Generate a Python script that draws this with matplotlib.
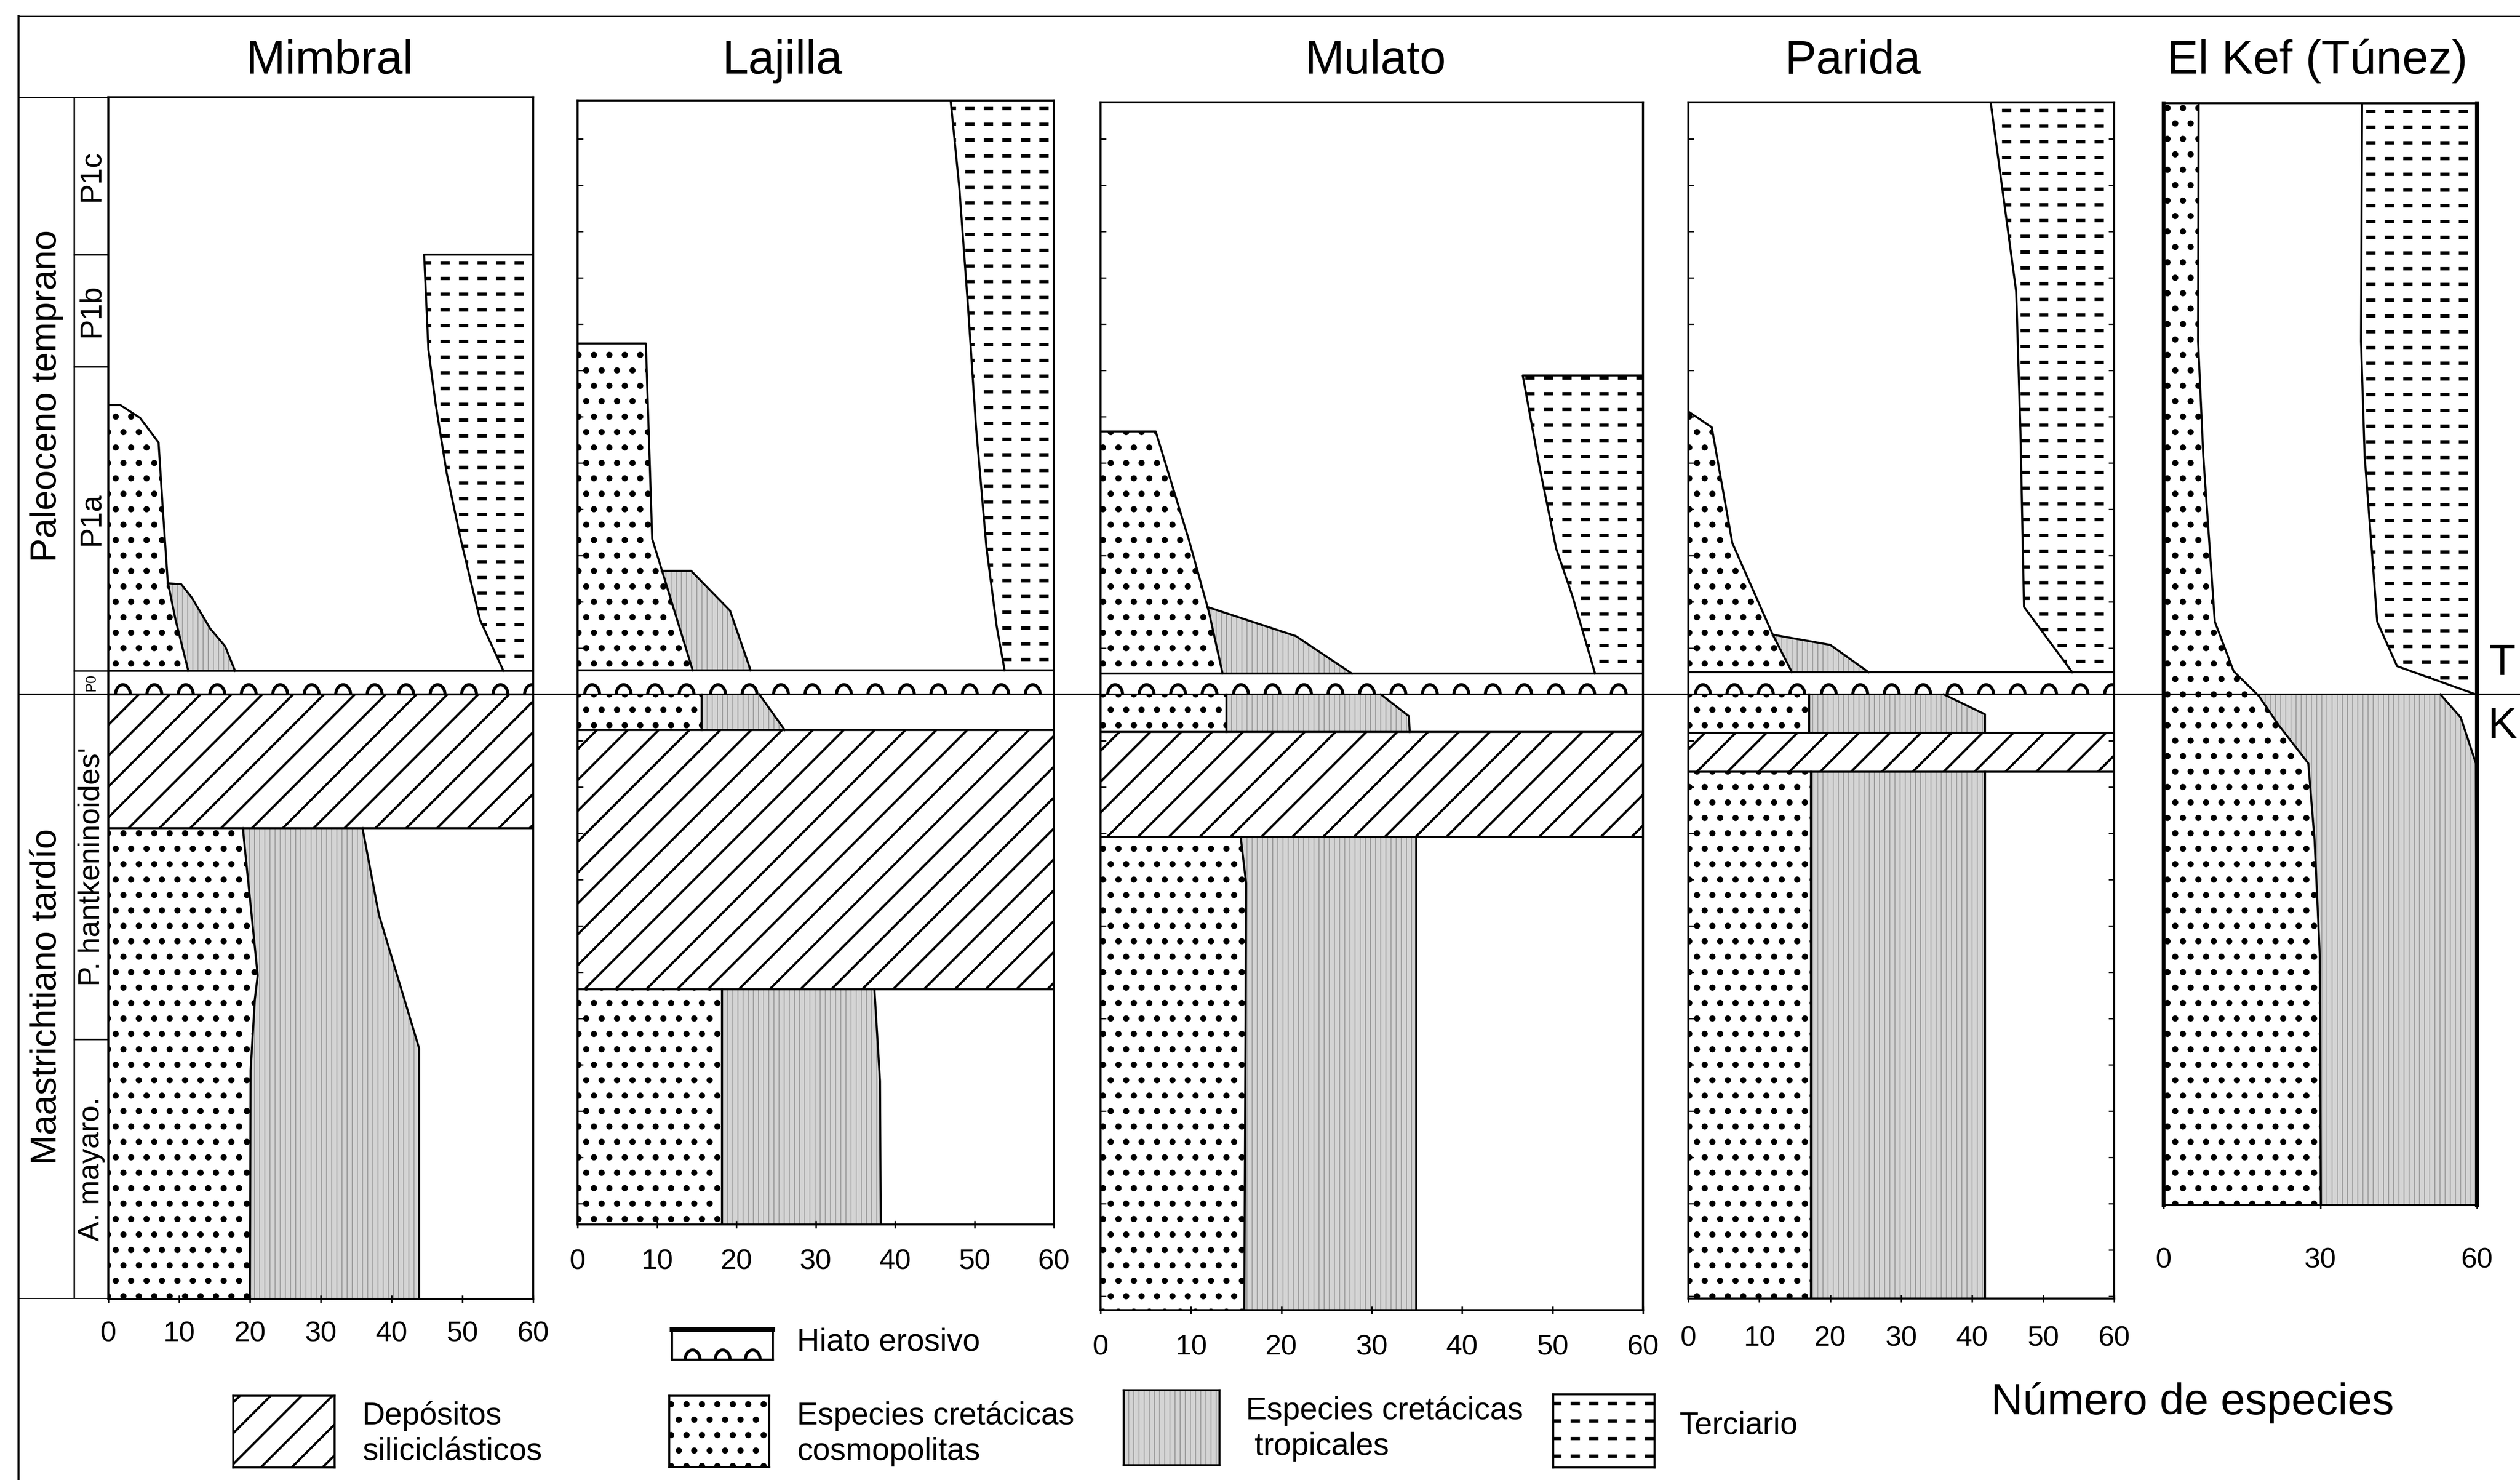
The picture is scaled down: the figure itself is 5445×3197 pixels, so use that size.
import numpy as np
import matplotlib
matplotlib.use("Agg")
import matplotlib.pyplot as plt
from matplotlib.lines import Line2D
from matplotlib.path import Path

# ---------------- data: species counts (x) at stratigraphic level (y, K/T = 0) ----------------
SECTIONS = ["Mimbral", "Lajilla", "Mulato", "Parida", "El Kef (Túnez)"]

# biozones / stages of the reference column (Mimbral)
ZONE_NAMES = ["P1c", "P1b", "P1a", "P0", "P. hantkeninoides'", "A. mayaro."]
ZONE_TOPS = [129.0, 95.0, 70.8, 5.1, 0.0, -74.5]
ZONE_BASES = [95.0, 70.8, 5.1, 0.0, -74.5, -130.6]
ERA_NAMES = ["Paleoceno temprano", "Maastrichtiano tardío"]
ERA_TOPS = [129.0, 0.0]
ERA_BASES = [0.0, -130.6]

# Mimbral
MIM_TOP, MIM_BASE = 129.0, -130.6
MIM_HIATUS_TOP = 5.1
MIM_SILIC = [0.0, -28.9]
MIM_TER_LVL = [95.0, 74.5, 63.0, 47.7, 33.3, 16.1, 5.1]
MIM_TER_N = [44.6, 45.2, 46.2, 47.8, 49.8, 52.5, 55.8]
MIM_COS_P_LVL = [62.5, 62.5, 59.7, 54.4, 40.0, 24.3, 16.1, 5.1]
MIM_COS_P_N = [0.0, 1.7, 4.5, 7.1, 7.7, 8.4, 9.5, 11.3]
MIM_TRO_P_LVL = [24.0, 23.8, 20.9, 14.2, 10.4, 5.1]
MIM_TRO_P_N = [8.4, 10.3, 11.8, 14.4, 16.5, 17.9]
MIM_COS_M_LVL = [-28.9, -60.7, -65.8, -81.1, -130.6]
MIM_COS_M_N = [19.0, 21.1, 20.7, 20.1, 20.0]
MIM_TRO_M_LVL = [-28.9, -47.5, -76.5, -130.6]
MIM_TRO_M_N = [35.9, 38.2, 43.9, 43.9]

# Lajilla
LAJ_TOP, LAJ_BASE = 128.3, -114.5
LAJ_HIATUS_TOP = 5.2
LAJ_SILIC = [-7.7, -63.7]
LAJ_TER_LVL = [128.3, 109.3, 83.5, 57.7, 31.9, 14.7, 5.2]
LAJ_TER_N = [47.0, 48.1, 49.2, 50.2, 51.5, 52.8, 53.8]
LAJ_COS_P_LVL = [75.8, 75.8, 33.6, 5.2]
LAJ_COS_P_N = [0.0, 8.6, 9.4, 14.5]
LAJ_TRO_P_LVL = [26.7, 26.7, 18.1, 5.2]
LAJ_TRO_P_N = [10.6, 14.3, 19.2, 21.8]
LAJ_COS_KT_LVL = [0.0, -7.7]
LAJ_COS_KT_N = [15.6, 15.6]
LAJ_TRO_KT_LVL = [0.0, -7.7]
LAJ_TRO_KT_N = [22.9, 26.1]
LAJ_COS_M_LVL = [-63.7, -114.5]
LAJ_COS_M_N = [18.2, 18.2]
LAJ_TRO_M_LVL = [-63.7, -83.5, -114.5]
LAJ_TRO_M_N = [37.4, 38.1, 38.2]

# Mulato
MUL_TOP, MUL_BASE = 127.9, -133.0
MUL_HIATUS_TOP = 4.5
MUL_SILIC = [-8.1, -30.8]
MUL_TER_LVL = [68.9, 48.7, 31.5, 21.2, 4.5]
MUL_TER_N = [46.7, 48.6, 50.4, 52.2, 54.7]
MUL_COS_P_LVL = [56.8, 56.8, 33.2, 17.7, 4.5]
MUL_COS_P_N = [0.0, 6.1, 9.8, 12.0, 13.5]
MUL_TRO_P_LVL = [18.9, 12.6, 4.5]
MUL_TRO_P_N = [11.8, 21.6, 27.8]
MUL_COS_KT_LVL = [0.0, -8.1]
MUL_COS_KT_N = [13.9, 13.9]
MUL_TRO_KT_LVL = [0.0, -4.7, -8.1]
MUL_TRO_KT_N = [31.0, 34.1, 34.2]
MUL_COS_M_LVL = [-30.8, -40.8, -133.0]
MUL_COS_M_N = [15.5, 16.1, 15.9]
MUL_TRO_M_LVL = [-30.8, -133.0]
MUL_TRO_M_N = [34.9, 34.9]

# Parida
PAR_TOP, PAR_BASE = 127.9, -130.5
PAR_HIATUS_TOP = 4.8
PAR_SILIC = [-8.3, -16.7]
PAR_TER_LVL = [127.9, 87.0, 56.8, 18.9, 4.8]
PAR_TER_N = [42.6, 46.2, 46.8, 47.3, 54.1]
PAR_COS_P_LVL = [61.1, 57.7, 32.7, 12.9, 4.8]
PAR_COS_P_N = [0.0, 3.3, 6.2, 11.9, 14.6]
PAR_TRO_P_LVL = [12.9, 10.7, 4.8]
PAR_TRO_P_N = [11.9, 20.0, 25.4]
PAR_COS_KT_LVL = [0.0, -8.3]
PAR_COS_KT_N = [17.0, 17.0]
PAR_TRO_KT_LVL = [0.0, -4.3, -8.3]
PAR_TRO_KT_N = [36.0, 41.8, 41.8]
PAR_COS_M_LVL = [-16.7, -130.5]
PAR_COS_M_N = [17.3, 17.3]
PAR_TRO_M_LVL = [-16.7, -130.5]
PAR_TRO_M_N = [41.8, 41.8]

# El Kef
KEF_TOP, KEF_BASE = 127.7, -110.3
KEF_COS_LVL = [127.7, 76.3, 51.4, 15.7, 5.0, -0.3, -6.6, -14.9, -31.5, -56.4, -110.3]
KEF_COS_N = [6.7, 6.6, 7.6, 9.8, 13.4, 18.2, 22.0, 27.7, 28.9, 29.9, 30.1]
KEF_TRO_LVL = [0.0, -5.0, -14.9, -110.3]
KEF_TRO_N = [53.0, 56.9, 59.8, 60.0]
KEF_TER_LVL = [127.7, 76.3, 51.4, 15.7, 6.1, 0.0]
KEF_TER_N = [38.0, 37.8, 38.5, 40.9, 44.7, 59.8]

TICKS = [0, 10, 20, 30, 40, 50, 60]
KEF_TICKS = [0, 30, 60]

# ---------------- layout / style ----------------
W, H, DPI = 5445, 3197, 400
KT_Y = 1500      # pixel row of the K/T line
PX_LVL = 10      # pixels per level unit
LW = 0.8
BUMP_PX = 68

plt.rcParams['font.family'] = ['Liberation Sans', 'DejaVu Sans']
plt.rcParams['hatch.linewidth'] = 0.9
plt.rcParams['lines.scale_dashes'] = False
plt.rcParams['axes.linewidth'] = LW

COSMO = dict(facecolor='white', edgecolor='black', hatch='..')
TROP = dict(facecolor='#d4d4d4', edgecolor='#999999', hatch='||||||')
SILIC = dict(facecolor='white', edgecolor='black', hatch='//')

_t = np.linspace(0, np.pi, 25)
ARCH = Path(np.column_stack([0.75 * np.cos(_t), np.sin(_t)]))


def rect(x0, x1, top, base):
    y_top = KT_Y - top * PX_LVL
    y_bot = KT_Y - base * PX_LVL
    return [x0 / W, 1 - y_bot / H, (x1 - x0) / W, (y_bot - y_top) / H]


def hatch_lw(patch, lw):
    if hasattr(patch, 'set_hatch_linewidth'):
        patch.set_hatch_linewidth(lw)


def style_lw(style):
    if style is COSMO:
        return 1.2
    if style is TROP:
        return 0.35
    return 0.9


def x_on(lvls, ns, y):
    for i in range(len(lvls) - 1):
        a, b = lvls[i], lvls[i + 1]
        if a != b and min(a, b) <= y <= max(a, b):
            return ns[i] + (ns[i + 1] - ns[i]) * (y - a) / (b - a)
    return ns[0] if abs(y - lvls[0]) < abs(y - lvls[-1]) else ns[-1]


def layer(ax, lvl_r, n_r, style, lvl_l=None, n_l=None):
    """Fill between a left boundary (axis or another curve) and the right boundary."""
    top, bot = lvl_r[0], lvl_r[-1]
    if lvl_l is None:
        left = [(0.0, bot), (0.0, top)]
    else:
        inner = sorted([(n, l) for l, n in zip(lvl_l, n_l) if bot < l < top], key=lambda p: p[1])
        left = [(x_on(lvl_l, n_l, bot), bot)] + inner + [(x_on(lvl_l, n_l, top), top)]
    xs = list(n_r) + [p[0] for p in left]
    ys = list(lvl_r) + [p[1] for p in left]
    poly, = ax.fill(xs, ys, lw=0, zorder=1, **style)
    hatch_lw(poly, style_lw(style))
    ax.plot(n_r, lvl_r, color='k', lw=LW, zorder=3)
    return poly


def dash_rows(ax, patch, row_px=34, lw=1.3):
    h_px = ax.get_position().height * H
    k = 0
    while (k + 0.5) * row_px < h_px:
        f = 1 - (k + 0.5) * row_px / h_px
        ln, = ax.plot([0, 1], [f, f], transform=ax.transAxes, color='k', lw=lw,
                      ls=(0.5, (3.6, 3.6)), dash_capstyle='butt', zorder=2)
        ln.set_clip_path(patch)
        k += 1


def terciario(ax, lvl, n):
    xs = [60] + list(n) + [60]
    ys = [lvl[0]] + list(lvl) + [lvl[-1]]
    poly, = ax.fill(xs, ys, facecolor='white', lw=0, zorder=1)
    dash_rows(ax, poly)
    ax.plot([60] + list(n), [lvl[0]] + list(lvl), color='k', lw=LW, zorder=3)


def silic(ax, top, base):
    sp = ax.axhspan(base, top, lw=0, zorder=1, **SILIC)
    hatch_lw(sp, 0.9)
    ax.axhline(top, color='k', lw=LW, zorder=3)
    ax.axhline(base, color='k', lw=LW, zorder=3)


def hiatus(ax, top_lvl, width_px):
    ax.axhline(top_lvl, color='k', lw=LW, zorder=3)
    step = BUMP_PX * 60 / width_px
    xs = np.arange(step * 0.45, 60, step)
    ax.plot(xs, np.zeros_like(xs), ls='none', marker=ARCH, ms=7.7, mfc='none',
            mec='k', mew=1.2, zorder=4)


def panel(fig, x0, x1, top, base, ticks, pad=7, side_lw=LW, yticks=None):
    ax = fig.add_axes(rect(x0, x1, top, base))
    ax.set_xlim(0, 60)
    ax.set_ylim(base, top)
    ax.set_xticks(ticks)
    ax.tick_params(axis='x', direction='inout', length=3, width=0.6, pad=pad, labelsize=11.2)
    if yticks:
        ax.set_yticks(np.arange(np.ceil(base / 10) * 10, top, 10))
        ax.tick_params(axis='y', direction='in', length=2.2, width=0.5,
                       left=True, right=(yticks == 'both'), labelleft=False)
    else:
        ax.set_yticks([])
    for s in ax.spines.values():
        s.set_linewidth(LW)
        s.set_zorder(5)
    ax.spines['left'].set_linewidth(side_lw)
    ax.spines['right'].set_linewidth(side_lw)
    return ax


def fig_line(fig, xs, ys, lw):
    fig.add_artist(Line2D([x / W for x in xs], [1 - y / H for y in ys],
                          transform=fig.transFigure, color='k', lw=lw))


fig = plt.figure(figsize=(W / DPI, H / DPI), dpi=DPI)

# ---- stratigraphic column ----
col = fig.add_axes(rect(40, 234, MIM_TOP, MIM_BASE))
col.set_xlim(0, 1)
col.set_ylim(MIM_BASE, MIM_TOP)
col.axis('off')
ZX = 0.619
col.axhline(MIM_TOP, color='k', lw=LW)
col.axhline(MIM_BASE, color='k', lw=LW)
col.axvline(ZX, color='k', lw=0.6)
for lvl in ZONE_TOPS[1:]:
    if lvl != 0.0:
        col.axhline(lvl, xmin=ZX, xmax=1, color='k', lw=0.6)
for name, t, b in zip(ZONE_NAMES, ZONE_TOPS, ZONE_BASES):
    col.text((ZX + 1) / 2, (t + b) / 2, name, rotation=90, ha='center', va='center',
             fontsize=5.5 if name == "P0" else 11.6)
for name, t, b in zip(ERA_NAMES, ERA_TOPS, ERA_BASES):
    col.text(ZX / 2, (t + b) / 2, name, rotation=90, ha='center', va='center', fontsize=14)

# ---- Mimbral ----
ax = panel(fig, 234, 1152, MIM_TOP, MIM_BASE, TICKS)
terciario(ax, MIM_TER_LVL, MIM_TER_N)
layer(ax, MIM_COS_P_LVL, MIM_COS_P_N, COSMO)
layer(ax, MIM_TRO_P_LVL, MIM_TRO_P_N, TROP, MIM_COS_P_LVL, MIM_COS_P_N)
hiatus(ax, MIM_HIATUS_TOP, 1152 - 234)
silic(ax, *MIM_SILIC)
layer(ax, MIM_COS_M_LVL, MIM_COS_M_N, COSMO)
layer(ax, MIM_TRO_M_LVL, MIM_TRO_M_N, TROP, MIM_COS_M_LVL, MIM_COS_M_N)

# ---- Lajilla ----
ax = panel(fig, 1248, 2277, LAJ_TOP, LAJ_BASE, TICKS, pad=8, yticks='left')
terciario(ax, LAJ_TER_LVL, LAJ_TER_N)
layer(ax, LAJ_COS_P_LVL, LAJ_COS_P_N, COSMO)
layer(ax, LAJ_TRO_P_LVL, LAJ_TRO_P_N, TROP, LAJ_COS_P_LVL, LAJ_COS_P_N)
hiatus(ax, LAJ_HIATUS_TOP, 2277 - 1248)
layer(ax, LAJ_COS_KT_LVL, LAJ_COS_KT_N, COSMO)
layer(ax, LAJ_TRO_KT_LVL, LAJ_TRO_KT_N, TROP, LAJ_COS_KT_LVL, LAJ_COS_KT_N)
silic(ax, *LAJ_SILIC)
layer(ax, LAJ_COS_M_LVL, LAJ_COS_M_N, COSMO)
layer(ax, LAJ_TRO_M_LVL, LAJ_TRO_M_N, TROP, LAJ_COS_M_LVL, LAJ_COS_M_N)

# ---- Mulato ----
ax = panel(fig, 2378, 3550, MUL_TOP, MUL_BASE, TICKS, pad=8, yticks='left')
terciario(ax, MUL_TER_LVL, MUL_TER_N)
layer(ax, MUL_COS_P_LVL, MUL_COS_P_N, COSMO)
layer(ax, MUL_TRO_P_LVL, MUL_TRO_P_N, TROP, MUL_COS_P_LVL, MUL_COS_P_N)
hiatus(ax, MUL_HIATUS_TOP, 3550 - 2378)
layer(ax, MUL_COS_KT_LVL, MUL_COS_KT_N, COSMO)
layer(ax, MUL_TRO_KT_LVL, MUL_TRO_KT_N, TROP, MUL_COS_KT_LVL, MUL_COS_KT_N)
silic(ax, *MUL_SILIC)
layer(ax, MUL_COS_M_LVL, MUL_COS_M_N, COSMO)
layer(ax, MUL_TRO_M_LVL, MUL_TRO_M_N, TROP, MUL_COS_M_LVL, MUL_COS_M_N)

# ---- Parida ----
ax = panel(fig, 3648, 4568, PAR_TOP, PAR_BASE, TICKS, pad=9, yticks='both')
terciario(ax, PAR_TER_LVL, PAR_TER_N)
layer(ax, PAR_COS_P_LVL, PAR_COS_P_N, COSMO)
layer(ax, PAR_TRO_P_LVL, PAR_TRO_P_N, TROP, PAR_COS_P_LVL, PAR_COS_P_N)
hiatus(ax, PAR_HIATUS_TOP, 4568 - 3648)
layer(ax, PAR_COS_KT_LVL, PAR_COS_KT_N, COSMO)
layer(ax, PAR_TRO_KT_LVL, PAR_TRO_KT_N, TROP, PAR_COS_KT_LVL, PAR_COS_KT_N)
silic(ax, *PAR_SILIC)
layer(ax, PAR_COS_M_LVL, PAR_COS_M_N, COSMO)
layer(ax, PAR_TRO_M_LVL, PAR_TRO_M_N, TROP, PAR_COS_M_LVL, PAR_COS_M_N)

# ---- El Kef ----
ax = panel(fig, 4675, 5352, KEF_TOP, KEF_BASE, KEF_TICKS, pad=15, side_lw=1.5)
terciario(ax, KEF_TER_LVL, KEF_TER_N)
layer(ax, KEF_COS_LVL, KEF_COS_N, COSMO)
layer(ax, KEF_TRO_LVL, KEF_TRO_N, TROP, KEF_COS_LVL, KEF_COS_N)

# ---- titles ----
for name, x in zip(SECTIONS, [712, 1691, 2972, 4004, 5007]):
    fig.text(x / W, 1 - 132 / H, name, ha='center', va='center', fontsize=18.3)

# ---- frame lines and K/T boundary ----
fig_line(fig, [40, W], [35, 35], 0.5)
fig_line(fig, [40, 40], [35, H], 0.8)
fig_line(fig, [40, W], [KT_Y, KT_Y], 0.7)
fig.text(5407 / W, 1 - 1434 / H, "T", ha='center', va='center', fontsize=17)
fig.text(5407 / W, 1 - 1570 / H, "K", ha='center', va='center', fontsize=17)


# ---- legend ----
def swatch(x0, y0, x1, y1):
    a = fig.add_axes([x0 / W, 1 - y1 / H, (x1 - x0) / W, (y1 - y0) / H])
    a.set_xlim(0, 1)
    a.set_ylim(0, 1)
    a.set_xticks([])
    a.set_yticks([])
    for s in a.spines.values():
        s.set_linewidth(LW)
    return a


a = swatch(1452, 2872, 1670, 2937)
a.spines['top'].set_linewidth(1.8)
a.plot([0.2, 0.5, 0.8], [0, 0, 0], ls='none', marker=ARCH, ms=7.7, mfc='none',
       mec='k', mew=1.2, clip_on=False)
fig.text(1722 / W, 1 - 2900 / H, "Hiato erosivo", ha='left', va='center', fontsize=12.2)

a = swatch(504, 3015, 723, 3170)
sp = a.axhspan(0, 1, lw=0, **SILIC)
hatch_lw(sp, 0.9)
fig.text(783 / W, 1 - 3097 / H, "Depósitos\nsiliciclásticos", ha='left', va='center',
         fontsize=12.2, linespacing=1.25)

a = swatch(1446, 3015, 1662, 3169)
sp = a.axhspan(0, 1, lw=0, **COSMO)
hatch_lw(sp, style_lw(COSMO))
fig.text(1722 / W, 1 - 3097 / H, "Especies cretácicas\ncosmopolitas", ha='left', va='center',
         fontsize=12.2, linespacing=1.25)

a = swatch(2428, 3003, 2635, 3165)
sp = a.axhspan(0, 1, lw=0, **TROP)
hatch_lw(sp, style_lw(TROP))
fig.text(2692 / W, 1 - 3086 / H, "Especies cretácicas\n tropicales", ha='left', va='center',
         fontsize=12.2, linespacing=1.25)

a = swatch(3356, 3012, 3575, 3170)
sp = a.axhspan(0, 1, facecolor='white', lw=0)
dash_rows(a, sp, row_px=38)
fig.text(3628 / W, 1 - 3080 / H, "Terciario", ha='left', va='center', fontsize=12.2)

fig.text(4302 / W, 1 - 3030 / H, "Número de especies", ha='left', va='center', fontsize=17.1)

fig.savefig("out.png", dpi=DPI)
